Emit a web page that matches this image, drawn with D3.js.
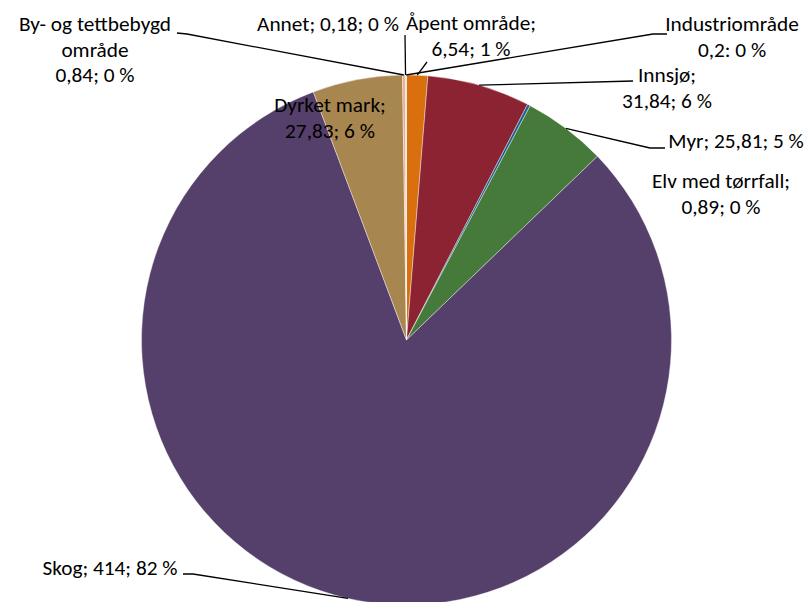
<!DOCTYPE html>
<html>
<head>
<meta charset="utf-8">
<script src="https://cdn.jsdelivr.net/npm/d3@7"></script>
<style>
  html, body { margin: 0; padding: 0; background: #fff; }
  svg { display: block; }
  text { font-family: Carlito, Calibri, Lato, "Open Sans", sans-serif; fill: #000; }
</style>
</head>
<body>
<svg id="chart" width="807" height="602"></svg>
<script>
// ---- data ----
const categories = ["Åpent område", "Innsjø", "Elv med tørrfall", "Myr", "Skog", "Dyrket mark", "By- og tettbebygd område", "Annet", "Industriområde"];
const values = [6.54, 31.84, 0.89, 25.81, 414, 27.83, 0.84, 0.18, 0.2];
const colors = ["#D9700D", "#8C2333", "#1F5F8C", "#467A3B", "#553F6B", "#A8864F", "#F2A882", "#A8C2DE", "#C8D4E2"];
// data label text (as shown in chart, per line)
const labelLines = [
  ["Åpent område;", "6,54; 1 %"],
  ["Innsjø;", "31,84; 6 %"],
  ["Elv med tørrfall;", "0,89; 0 %"],
  ["Myr; 25,81; 5 %"],
  ["Skog; 414; 82 %"],
  ["Dyrket mark;", "27,83; 6 %"],
  ["By- og tettbebygd", "område", "0,84; 0 %"],
  ["Annet; 0,18; 0 %"],
  ["Industriområde", "0,2: 0 %"]
];

// ---- layout ----
const W = 807, H = 602;
const cx = 406.5, cy = 340, R = 265;
const fontSize = 21.3, lineH = 25.5;
// label centre x / first baseline y, and leader path start points (null = no leader)
const labelLayout = [
  { x: 471, y: 30, leader: [[427, 62]] },
  { x: 667, y: 82, leader: [[633, 81]] },
  { x: 721, y: 188, leader: null },
  { x: 736, y: 148, leader: [[665, 148], [650, 148]] },
  { x: 110, y: 575, leader: [[183, 574], [193, 574]] },
  { x: 330, y: 112, leader: null },
  { x: 95, y: 31, leader: [[177, 33], [187, 34]] },
  { x: 328, y: 31, leader: [[405, 35]] },
  { x: 732, y: 31, leader: [[667, 34], [653, 34]] }
];

const svg = d3.select("#chart");
const data = categories.map((c, i) => ({ name: c, value: values[i], color: colors[i], lines: labelLines[i], layout: labelLayout[i] }));

const pie = d3.pie().value(d => d.value).sort(null).startAngle(0).endAngle(2 * Math.PI);
const arc = d3.arc().innerRadius(0).outerRadius(R);
const arcs = pie(data);

const g = svg.append("g").attr("transform", `translate(${cx},${cy})`);
g.selectAll("path.slice")
  .data(arcs)
  .enter().append("path")
  .attr("class", "slice")
  .attr("d", arc)
  .attr("fill", d => d.data.color)
  .attr("stroke", "#ffffff")
  .attr("stroke-width", 0.4);

// leader lines: from label stub to the slice's outer edge at mid angle
const lineGen = d3.line();
arcs.forEach(a => {
  const L = a.data.layout;
  if (!L.leader) return;
  const mid = (a.startAngle + a.endAngle) / 2;
  const end = [cx + R * Math.sin(mid), cy - R * Math.cos(mid)];
  const pts = L.leader.concat([end]);
  svg.append("path")
    .attr("d", lineGen(pts))
    .attr("fill", "none")
    .attr("stroke", "#000")
    .attr("stroke-width", 1.3);
});

// labels
arcs.forEach(a => {
  const L = a.data.layout;
  const t = svg.append("text")
    .attr("text-anchor", "middle")
    .attr("font-size", fontSize);
  a.data.lines.forEach((ln, k) => {
    t.append("tspan").attr("x", L.x).attr("y", L.y + k * lineH).text(ln);
  });
});
</script>
</body>
</html>
